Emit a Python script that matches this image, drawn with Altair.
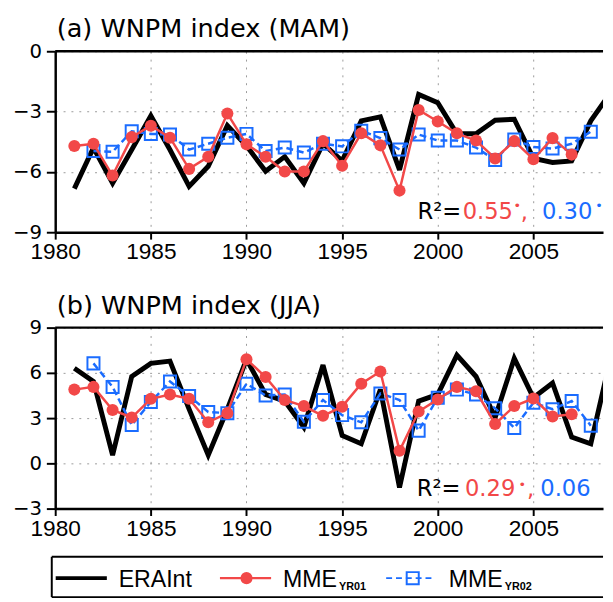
import altair as alt
import pandas as pd

# ---------------- data ----------------
years_era = list(range(1981, 2010))
years_yr01 = list(range(1981, 2008))
years_yr02 = list(range(1982, 2009))

era_a = [-6.83, -4.8, -6.56, -4.9, -3.21, -4.9, -6.72, -5.72, -3.7, -4.7,
         -5.97, -5.24, -6.56, -4.6, -5.45, -3.46, -3.26, -5.9, -2.15, -2.56,
         -4.1, -4.1, -3.43, -3.38, -5.33, -5.53, -5.45, -3.46, -2.1]
yr01_a = [-4.71, -4.6, -6.18, -4.27, -3.7, -4.3, -5.85, -5.25, -3.1, -4.63,
          -5.25, -5.98, -5.98, -4.47, -5.69, -4.08, -4.68, -6.93, -2.92, -3.49,
          -4.08, -4.44, -5.33, -4.47, -5.37, -4.32, -5.14]
yr02_a = [-4.96, -5.0, -3.98, -4.11, -4.14, -4.89, -4.6, -4.3, -4.11, -4.96,
          -4.79, -5.04, -4.6, -4.73, -3.95, -4.32, -4.89, -4.14, -4.44, -4.44,
          -4.79, -5.41, -4.39, -4.76, -4.84, -4.6, -4.0]

era_b = [6.31, 5.43, 0.54, 5.76, 6.63, 6.78, 3.6, 0.54, 3.59, 6.9,
         4.57, 4.13, 2.39, 6.52, 1.85, 1.3, 4.9, -1.6, 4.13, 4.57,
         7.18, 5.76, 3.04, 6.96, 4.35, 5.33, 1.74, 1.3, 6.8]
yr01_b = [4.89, 5.07, 3.54, 3.04, 4.28, 4.57, 4.28, 2.72, 3.33, 6.9,
          5.72, 4.2, 3.8, 3.15, 3.76, 5.28, 6.09, 0.83, 3.44, 4.24,
          5.07, 4.78, 2.61, 3.8, 4.3, 3.11, 3.26]
yr02_b = [6.63, 5.07, 2.54, 4.07, 5.43, 4.46, 3.41, 3.33, 5.28, 4.5,
          4.57, 2.76, 4.2, 3.2, 2.72, 4.63, 4.2, 2.17, 4.35, 4.89,
          4.57, 3.65, 2.35, 4.02, 3.59, 4.13, 2.5]

x_ticks = [1980, 1985, 1990, 1995, 2000, 2005]
y_ticks_a = [0, -3, -6, -9]
y_ticks_b = [9, 6, 3, 0, -3]

titles = ["(a) WNPM index (MAM)", "(b) WNPM index (JJA)"]
r2_a = ["R²=", "0.55", "•", ",", "0.30", "•"]
r2_b = ["R²=", "0.29", "•", ",", "0.06"]
legend_names = ["ERAInt", "MME", "YR01", "MME", "YR02"]

# ---------------- styles ----------------
RED = "#f24848"
BLUE = "#1a6cff"
NUMFONT = "DejaVu Sans"
SANS = "Liberation Sans"
XMAX = 2008.64
W, H = 557, 184
GAP_AB = 97
GAP_LEG = 49
LEG_H = 41


def frame(vals):
    return pd.DataFrame(vals)


dummy = frame({"a": [0]})


def legend_layers():
    y0 = H + GAP_LEG
    yc = y0 + 21.7
    tb = y0 + 30.7
    layers = [
        alt.Chart(dummy).mark_rule(color="black", strokeWidth=2).encode(
            x=alt.value(-3.5), x2=alt.value(W), y=alt.value(y0)),
        alt.Chart(dummy).mark_rule(color="black", strokeWidth=2).encode(
            x=alt.value(-3.5), x2=alt.value(W), y=alt.value(y0 + LEG_H)),
        alt.Chart(dummy).mark_rule(color="black", strokeWidth=2).encode(
            x=alt.value(-3.5), y=alt.value(y0), y2=alt.value(y0 + LEG_H)),
        alt.Chart(dummy).mark_rule(color="black", strokeWidth=4).encode(
            x=alt.value(0.5), x2=alt.value(52.5), y=alt.value(yc)),
        alt.Chart(dummy).mark_rule(color=RED, strokeWidth=2.5).encode(
            x=alt.value(167.5), x2=alt.value(219.5), y=alt.value(yc)),
        alt.Chart(dummy).mark_circle(color=RED, size=150, opacity=1).encode(
            x=alt.value(194.5), y=alt.value(yc)),
        alt.Chart(dummy).mark_rule(color=BLUE, strokeWidth=2, strokeDash=[6, 4]).encode(
            x=alt.value(336.5), x2=alt.value(386.5), y=alt.value(yc)),
        alt.Chart(dummy).mark_point(shape="square", filled=False, color=BLUE, size=150,
                                    strokeWidth=2, opacity=1).encode(
            x=alt.value(363.5), y=alt.value(yc)),
    ]
    leg_x = [64.5, 231.5, 288.5, 400.2, 457]
    for i, name in enumerate(legend_names):
        sub = name.startswith("YR")
        layers.append(
            alt.Chart(dummy).mark_text(
                text=name, color="black", align="left", baseline="alphabetic",
                font=SANS, fontSize=11 if sub else 23.5,
                fontWeight="bold" if sub else "normal",
            ).encode(x=alt.value(leg_x[i]), y=alt.value(y0 + 34 if sub else tb))
        )
    return layers


def panel(era, yr01, yr02, ydom, yticks, title, r2, r2_y, dot_y, r2_x, extra=()):
    xs = alt.Scale(domain=[1980, XMAX], nice=False, zero=False)
    ys = alt.Scale(domain=ydom, nice=False, zero=False)
    xax = alt.Axis(values=x_ticks, format="d", title=None, labelFont=SANS,
                   labelFontSize=23, labelColor="black", tickSize=7, tickWidth=2,
                   tickColor="black", domainColor="black", domainWidth=2.5,
                   labelPadding=2, grid=True, gridDash=[2, 6], gridColor="#9a9a9a",
                   gridWidth=1, labelFlush=False)
    yax = alt.Axis(values=yticks, format="d", title=None, labelFont=NUMFONT,
                   labelFontSize=20, labelColor="black", tickSize=9, tickWidth=2,
                   tickColor="black", domainColor="black", domainWidth=2.5,
                   labelPadding=5, grid=True, gridDash=[2, 6], gridColor="#9a9a9a",
                   gridWidth=1)
    d_era = frame({"year": years_era, "value": era})
    d_01 = frame({"year": years_yr01, "value": yr01})
    d_02 = frame({"year": years_yr02, "value": yr02})

    enc = dict(x=alt.X("year:Q", scale=xs, axis=xax), y=alt.Y("value:Q", scale=ys, axis=yax))
    l_era = alt.Chart(d_era).mark_line(color="black", strokeWidth=5, clip=True,
                                       strokeJoin="miter", strokeMiterLimit=3).encode(**enc)
    l_02 = alt.Chart(d_02).mark_line(color=BLUE, strokeWidth=2.5, strokeDash=[7, 4],
                                     clip=True).encode(**enc)
    p_02 = alt.Chart(d_02).mark_point(shape="square", filled=False, color=BLUE, size=150,
                                      strokeWidth=2, opacity=1, clip=True).encode(**enc)
    l_01 = alt.Chart(d_01).mark_line(color=RED, strokeWidth=2.5, clip=True).encode(**enc)
    p_01 = alt.Chart(d_01).mark_circle(color=RED, size=150, opacity=1,
                                       clip=True).encode(**enc)

    top = alt.Chart(dummy).mark_rule(color="black", strokeWidth=2.5).encode(
        y=alt.datum(ydom[1]))
    ttl = alt.Chart(dummy).mark_text(
        text=title, font=NUMFONT, fontSize=26, color="black", align="left",
        baseline="alphabetic").encode(x=alt.value(1.5), y=alt.value(-14))

    colors = ["black", RED, RED, RED, BLUE, BLUE]
    texts = []
    for i, t in enumerate(r2):
        is_dot = t == "•"
        is_comma = t == ","
        texts.append(
            alt.Chart(dummy).mark_text(
                text=t, color=colors[i], font=NUMFONT,
                fontSize=13 if is_dot else 23,
                align="center" if (is_dot or is_comma) else "left",
                baseline="middle" if is_dot else "alphabetic",
            ).encode(x=alt.datum(r2_x[i]), y=alt.datum(dot_y if is_dot else r2_y))
        )

    return alt.layer(top, l_era, l_02, p_02, l_01, p_01, ttl, *texts, *extra).properties(
        width=W, height=H)


pa = panel(era_a, yr01_a, yr02_a, [-9, 0], y_ticks_a, titles[0], r2_a,
           -8.35, -7.68, [1998.94, 2001.30, 2004.16, 2004.52, 2005.45, 2008.43])
pb = panel(era_b, yr01_b, yr02_b, [-3, 9], y_ticks_b, titles[1], r2_b,
           -2.17, -1.42, [1998.90, 2001.42, 2004.42, 2004.85, 2005.36],
           extra=legend_layers())

chart = alt.VConcatChart(
    vconcat=[pa, pb], spacing=GAP_AB, bounds="flush",
).properties(
    padding={"left": 4, "top": 4, "right": 0, "bottom": 0},
    background="white",
).configure_view(stroke=None)

chart.save("out.html", embed_options={"renderer": "svg", "actions": False})
